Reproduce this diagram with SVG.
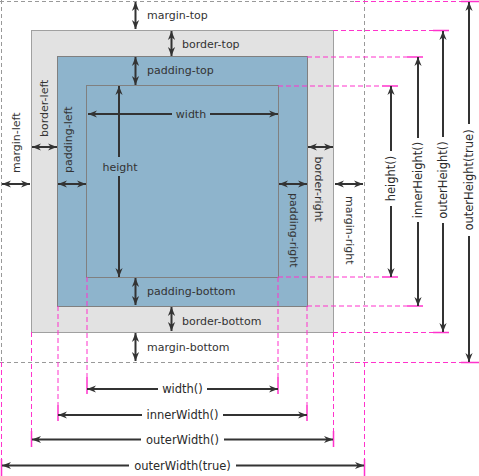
<svg xmlns="http://www.w3.org/2000/svg" width="479" height="476" viewBox="0 0 479 476">
<style>
text{font-family:"DejaVu Sans","Verdana",sans-serif;font-size:11px;fill:#333}
.m{font-size:11.5px;fill:#2a2a2a}
.a{stroke:#333;stroke-width:2;fill:none;marker-end:url(#ah)}
.d{stroke:#333;stroke-width:2;fill:none;marker-start:url(#ah);marker-end:url(#ah)}
.g{stroke:#999;stroke-width:1;stroke-dasharray:4,3;fill:none}
.p{stroke:#ff33cc;stroke-width:1;stroke-dasharray:5,3;fill:none}
.t{stroke:#ff33cc;stroke-width:1.5;fill:none}
</style>
<defs>
<marker id="ah" viewBox="0 0 10 10" refX="10" refY="5" markerWidth="9" markerHeight="9" markerUnits="userSpaceOnUse" orient="auto-start-reverse">
<path d="M0,1 L10,5 L0,9 L3,5 z" fill="#333"/>
</marker>
</defs>
<rect width="479" height="476" fill="#fff"/>

<g id="margin-box">
<path class="g" d="M0,1.5 H355 M1.5,0 V362 M364.5,0 V362 M0,362.5 H355"/>
</g>
<g id="border-box">
<rect x="31.5" y="30.5" width="302" height="302" fill="#e2e2e2" stroke="#a0a0a0"/>
</g>
<g id="padding-box">
<rect x="57.5" y="56.5" width="250" height="250" fill="#8eb4cc" stroke="#808080"/>
</g>
<g id="content-box">
<rect x="86.5" y="85.5" width="192" height="192" fill="#8eb4cc" stroke="#808080"/>
</g>

<g id="guides">
<path class="p" d="M278,86 H382 M307,57 H407 M333,30.5 H433 M355,1.5 H461 M278,277 H382 M307,306 H407 M333,332.5 H433 M355,362.5 H461"/>
<path class="t" d="M382,86 H398 M407,57 H423 M433,30.5 H449 M461,1.5 H479 M382,277 H398 M407,306 H423 M433,332.5 H449 M461,362.5 H479"/>
<path class="p" d="M87,277 V377 M278,277 V377 M58,306 V405 M307,306 V405 M31.5,332 V431 M333.5,332 V431 M1.5,362 V459 M364.5,362 V459"/>
<path class="t" d="M87,377 V394 M278,377 V394 M58,405 V421 M307,405 V421 M31.5,431 V447 M333.5,431 V447 M1.5,459 V476 M364.5,459 V476"/>
</g>

<g id="connectors">
<path class="d" d="M135.5,2 V29"/>
<path class="d" d="M171.5,31 V56"/>
<path class="d" d="M135.5,57 V85"/>
<path class="a" d="M172,114 H88"/>
<path class="a" d="M210,114 H278"/>
<path class="a" d="M119,157 V86"/>
<path class="a" d="M119,176 V277"/>
<path class="d" d="M135.5,278 V305"/>
<path class="d" d="M171.5,307 V331"/>
<path class="d" d="M135.5,333 V361"/>
<path class="d" d="M2,184 H30"/>
<path class="d" d="M32,147 H57"/>
<path class="d" d="M58,184 H86"/>
<path class="d" d="M279,184 H307"/>
<path class="d" d="M308,147 H333"/>
<path class="d" d="M335,184 H363"/>
<path class="a" d="M391,151 V86"/>
<path class="a" d="M391,206 V277"/>
<path class="a" d="M418,138 V57"/>
<path class="a" d="M418,222 V306"/>
<path class="a" d="M443,137 V31"/>
<path class="a" d="M443,223 V332"/>
<path class="a" d="M469,124 V2"/>
<path class="a" d="M469,236 V362"/>
<path class="a" d="M158,389 H87"/>
<path class="a" d="M207,389 H278"/>
<path class="a" d="M142,415 H58"/>
<path class="a" d="M223,415 H307"/>
<path class="a" d="M141,439.5 H32"/>
<path class="a" d="M224,439.5 H333"/>
<path class="a" d="M129,465.5 H2"/>
<path class="a" d="M236,465.5 H364"/>
</g>

<g id="labels">
<text x="147" y="19">margin-top</text>
<text x="182" y="47.5">border-top</text>
<text x="147" y="73.5">padding-top</text>
<text x="191" y="118" text-anchor="middle">width</text>
<text x="120" y="170.5" text-anchor="middle">height</text>
<text x="147" y="295">padding-bottom</text>
<text x="182" y="324.5">border-bottom</text>
<text x="147" y="350.5">margin-bottom</text>
<text transform="translate(19.5,173) rotate(-90)">margin-left</text>
<text transform="translate(47.5,137) rotate(-90)">border-left</text>
<text transform="translate(71.7,173) rotate(-90)">padding-left</text>
<text transform="translate(290,193) rotate(90)">padding-right</text>
<text transform="translate(315,156.5) rotate(90)">border-right</text>
<text transform="translate(345.5,196) rotate(90)">margin-right</text>
<text class="m" text-anchor="middle" transform="translate(394.5,178.5) rotate(-90)">height()</text>
<text class="m" text-anchor="middle" transform="translate(421.5,180) rotate(-90)">innerHeight()</text>
<text class="m" text-anchor="middle" transform="translate(446.5,180) rotate(-90)">outerHeight()</text>
<text class="m" text-anchor="middle" transform="translate(472.5,180) rotate(-90)">outerHeight(true)</text>
<text class="m" x="182.5" y="393" text-anchor="middle">width()</text>
<text class="m" x="182.5" y="419" text-anchor="middle">innerWidth()</text>
<text class="m" x="182.5" y="443.5" text-anchor="middle">outerWidth()</text>
<text class="m" x="182.5" y="469.5" text-anchor="middle">outerWidth(true)</text>
</g>
</svg>
